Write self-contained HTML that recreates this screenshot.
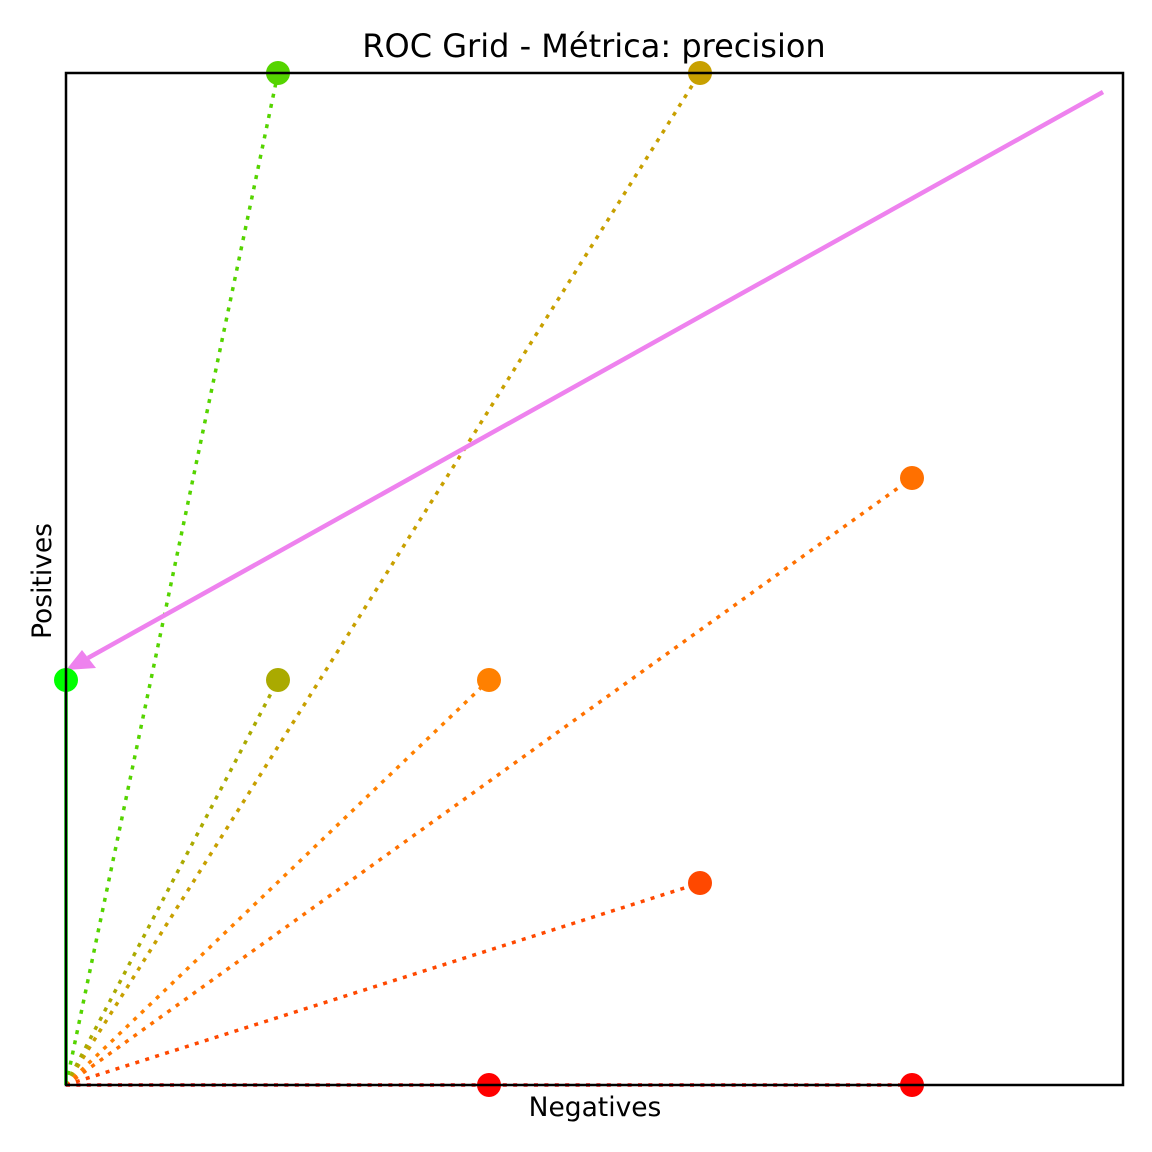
<!DOCTYPE html>
<html><head><meta charset="utf-8"><style>body{margin:0;background:#fff}svg{display:block}</style></head>
<body>
<svg width="1152" height="1152" xmlns="http://www.w3.org/2000/svg" font-family="DejaVu Sans, Liberation Sans, sans-serif">
<rect width="1152" height="1152" fill="#fff"/>
<text x="594" y="57" font-size="32" text-anchor="middle">ROC Grid - Métrica: precision</text>
<text x="595" y="1116" font-size="26.5" text-anchor="middle">Negatives</text>
<text x="51" y="581" font-size="26.5" text-anchor="middle" transform="rotate(-90 51 581)">Positives</text>
<g fill="none" stroke-width="3.5" stroke-dasharray="4 6.4">
<line x1="66" y1="1085" x2="278" y2="73" stroke="#55d400"/>
<line x1="66" y1="1085" x2="700" y2="73" stroke="#c8a000"/>
<line x1="66" y1="1085" x2="278" y2="680" stroke="#aaaa00"/>
<line x1="66" y1="1085" x2="489" y2="680" stroke="#ff8000"/>
<line x1="66" y1="1085" x2="912" y2="478" stroke="#ff7000"/>
<line x1="66" y1="1085" x2="700" y2="883" stroke="#ff4800"/>
<line x1="66" y1="1085" x2="912" y2="1085" stroke="#ff0000"/>
</g>
<line x1="66" y1="1085" x2="66" y2="680" stroke="#00ff00" stroke-width="3.5"/>
<line x1="1103" y1="92" x2="88" y2="658" stroke="#ee82ee" stroke-width="4.5"/>
<polygon points="66,670 82,650 96,668" fill="#ee82ee"/>
<g>
<circle cx="278" cy="73" r="12" fill="#55d400"/>
<circle cx="700" cy="73" r="12" fill="#c8a000"/>
<circle cx="66" cy="680" r="12" fill="#00ff00"/>
<circle cx="278" cy="680" r="12" fill="#aaaa00"/>
<circle cx="489" cy="680" r="12" fill="#ff8000"/>
<circle cx="912" cy="478" r="12" fill="#ff7000"/>
<circle cx="700" cy="883" r="12" fill="#ff4800"/>
<circle cx="489" cy="1085" r="12" fill="#ff0000"/>
<circle cx="912" cy="1085" r="12" fill="#ff0000"/>
</g>
<rect x="66" y="73" width="1057" height="1012" fill="none" stroke="#000" stroke-width="2.5"/>
</svg>
</body></html>
